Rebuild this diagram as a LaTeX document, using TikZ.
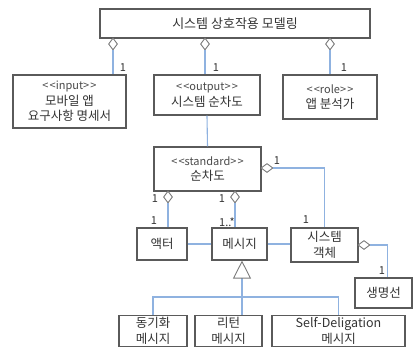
\documentclass[tikz,border=0pt]{standalone}
\usepackage{fontspec}
\newfontfamily\kr{Noto Sans CJK KR}
\usetikzlibrary{arrows.meta,shapes.geometric,shadows}
\definecolor{linkblue}{HTML}{8FB2E0}
\definecolor{boxline}{HTML}{5A5A5A}
\definecolor{txt}{HTML}{333333}
\definecolor{stereo}{HTML}{4A4A4A}
\newcommand{\stereo}[1]{{\fontsize{11}{15}\selectfont\color{stereo}#1}}
\newcommand{\lt}{<\kern1.2pt<}
\newcommand{\gt}{>\kern1.2pt>}
\tikzset{
  box/.style={draw=boxline, line width=1.1pt, fill=white, rectangle, inner sep=1pt,
    align=center, text=txt, font=\kr\fontsize{12.5}{15.5}\selectfont,
    drop shadow={shadow xshift=0.9pt, shadow yshift=-0.9pt, fill=black!40, opacity=0.6}},
  aggv/.style={diamond, draw=boxline!80, line width=0.9pt, fill=white, inner sep=0pt,
    minimum width=9pt, minimum height=12pt},
  aggh/.style={diamond, draw=boxline!80, line width=0.9pt, fill=white, inner sep=0pt,
    minimum width=12pt, minimum height=9pt},
  link/.style={draw=linkblue, line width=1.1pt},
  mult/.style={text=txt, font=\kr\fontsize{11}{12}\selectfont, inner sep=0pt}
}
\begin{document}
\begin{tikzpicture}[x=1pt,y=-1pt]
\useasboundingbox (0,0) rectangle (413,349);

% classes
\node[box, minimum width=270pt, minimum height=29pt, font=\kr\fontsize{13}{15}\selectfont]
  (model) at (235,23.5) {시스템 상호작용 모델링};
\node[box, minimum width=113pt, minimum height=53pt] (input) at (69.5,101.5)
  {\stereo{\lt input\gt}\\모바일 앱\\요구사항 명세서};
\node[box, minimum width=106pt, minimum height=40pt] (output) at (207,95)
  {\stereo{\lt output\gt}\\시스템 순차도};
\node[box, minimum width=94pt, minimum height=44pt] (role) at (330,97)
  {\stereo{\lt role\gt}\\앱 분석가};
\node[box, minimum width=107pt, minimum height=44pt] (seq) at (207.5,169)
  {\stereo{\lt standard\gt}\\순차도};
\node[box, minimum width=50pt, minimum height=32pt] (actor) at (162,244) {액터};
\node[box, minimum width=55pt, minimum height=32pt] (msg) at (239.5,244) {메시지};
\node[box, minimum width=67pt, minimum height=34pt] (obj) at (324.5,245) {시스템\\객체};
\node[box, minimum width=57pt, minimum height=30pt] (life) at (383.5,293) {생명선};
\node[box, minimum width=68pt, minimum height=31pt] (sync) at (153,331) {동기화\\메시지};
\node[box, minimum width=67pt, minimum height=31pt] (ret) at (228.5,331) {리턴\\메시지};
\node[box, minimum width=133pt, minimum height=31pt] (self) at (338.5,331) {Self-Deligation\\메시지};

% aggregation diamonds
\node[aggv] (d1) at (113,44) {};
\node[aggv] (d2) at (205,44) {};
\node[aggv] (d3) at (330,44) {};
\node[aggv] (d4) at (168,197) {};
\node[aggv] (d5) at (235,197) {};
\node[aggh] (d6) at (267,168) {};
\node[aggh] (d7) at (364,245) {};

% aggregation links
\draw[link] (d1.south) -- (d1 |- input.north);
\draw[link] (d2.south) -- (d2 |- output.north);
\draw[link] (d3.south) -- (d3 |- role.north);
\draw[link] (d4.south) -- (d4 |- actor.north);
\draw[link] (d5.south) -- (d5 |- msg.north);
\draw[link] (d6.east) -| (obj.north);
\draw[link] (d7.east) -| ([xshift=4pt]life.north);

% plain links
\draw[link] (output.south) -- (seq.north);
\draw[link] (actor.east) -- (msg.west);
\draw[link] (msg.east) -- (msg.east -| obj.west);

% generalization
\coordinate (bus) at (242,297);
\draw[link, -{Triangle[open, length=18pt, width=18pt, color=boxline!80, line width=0.9pt]}]
  (bus |- ret.north) -- (bus |- msg.south);
\draw[link] (sync.north) |- (bus) -| (self.north);

% multiplicities
\node[mult] (m1) at (123,68) {1};
\node[mult] (m2) at (216,68) {1};
\node[mult] (m3) at (344,68) {1};
\node[mult] (m4) at (277,161) {1};
\node[mult] (m5) at (155,199) {1};
\node[mult] (m6) at (222,199) {1};
\node[mult] (m7) at (154,221) {1};
\node[mult] (m8) at (227,222) {1..*};
\node[mult] (m9) at (306,220) {1};
\node[mult] (m10) at (382,271) {1};
\end{tikzpicture}
\end{document}
